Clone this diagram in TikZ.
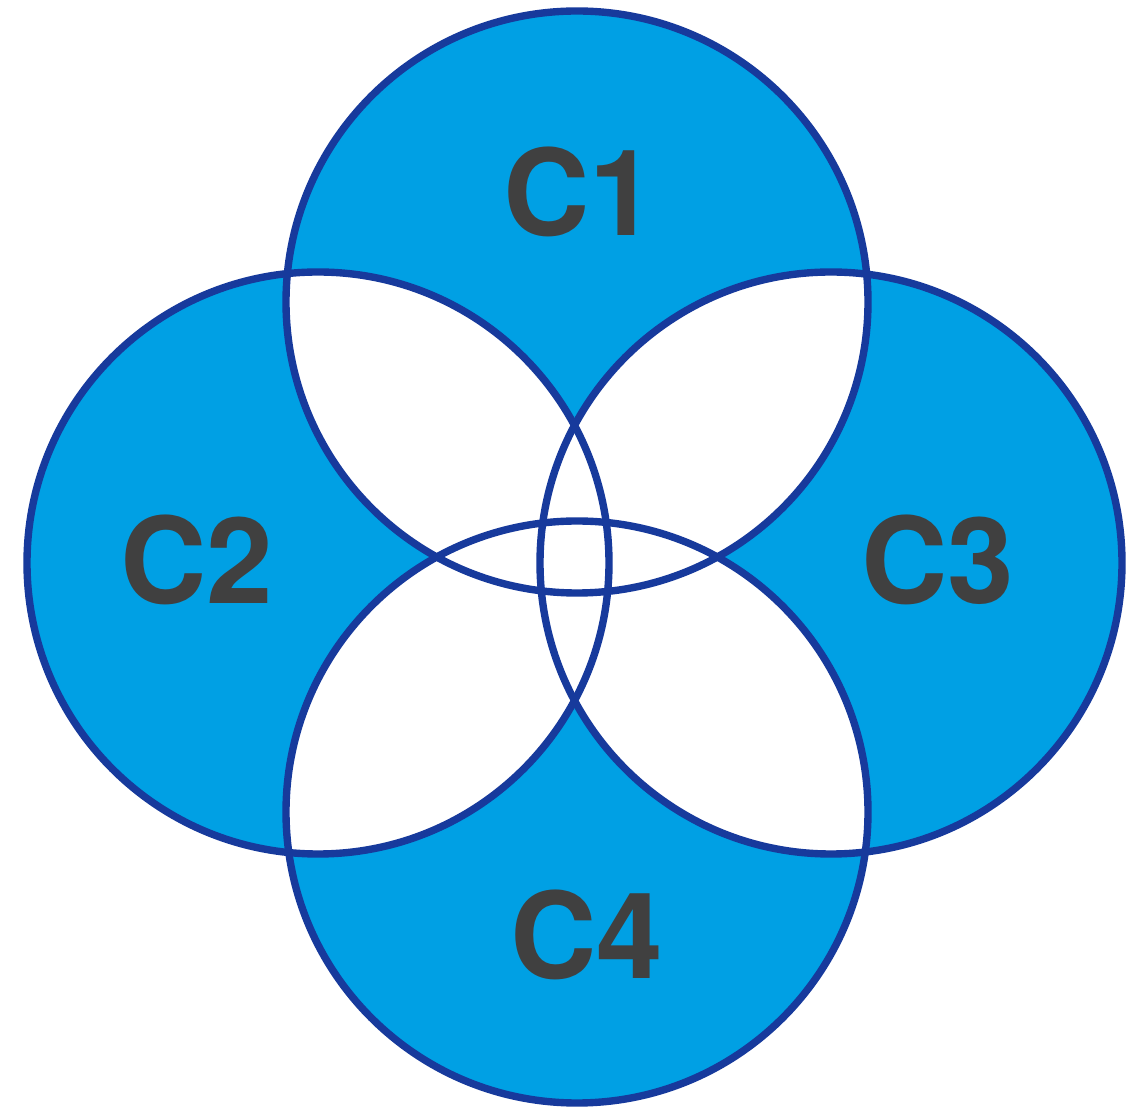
\documentclass[tikz,border=0pt]{standalone}
\usepackage{fontspec}
\setmainfont{TeX Gyre Heros}
\usepackage{xcolor}
\usepackage{tikz}
\usetikzlibrary{positioning, calc}

\definecolor{setfill}{HTML}{00A0E4}
\definecolor{setline}{HTML}{173A9C}
\definecolor{setlabel}{HTML}{404040}

\begin{document}
\begin{tikzpicture}[x=0.01cm, y=-0.01cm,
  setlabel/.style={text=setlabel, font=\fontsize{34}{34}\selectfont\bfseries}]
  \useasboundingbox (0,0) rectangle (1127,1113);
  % Four overlapping sets
  \def\rS{291}
  \coordinate (S1) at (577,302);
  \coordinate (S2) at (318,563);
  \coordinate (S3) at (831,563);
  \coordinate (S4) at (577,812);
  % Blue where only one set covers
  \foreach \s in {S1,S2,S3,S4}
    \fill[setfill] (\s) circle (\rS);
  % Overlaps are white
  \foreach \a/\b in {S1/S2,S1/S3,S1/S4,S2/S3,S2/S4,S3/S4}{
    \begin{scope}
      \clip (\a) circle (\rS);
      \fill[white] (\b) circle (\rS);
    \end{scope}
  }
  % Outlines
  \foreach \s in {S1,S2,S3,S4}
    \draw[setline, line width=2.1pt] (\s) circle (\rS);
  % Labels
  \node[setlabel] (c1) at (580,192) {C1};
  \node[setlabel] (c2) at (197,560) {C2};
  \node[setlabel] (c3) at (938,560) {C3};
  \node[setlabel] (c4) at (587,935) {C4};
\end{tikzpicture}
\end{document}
